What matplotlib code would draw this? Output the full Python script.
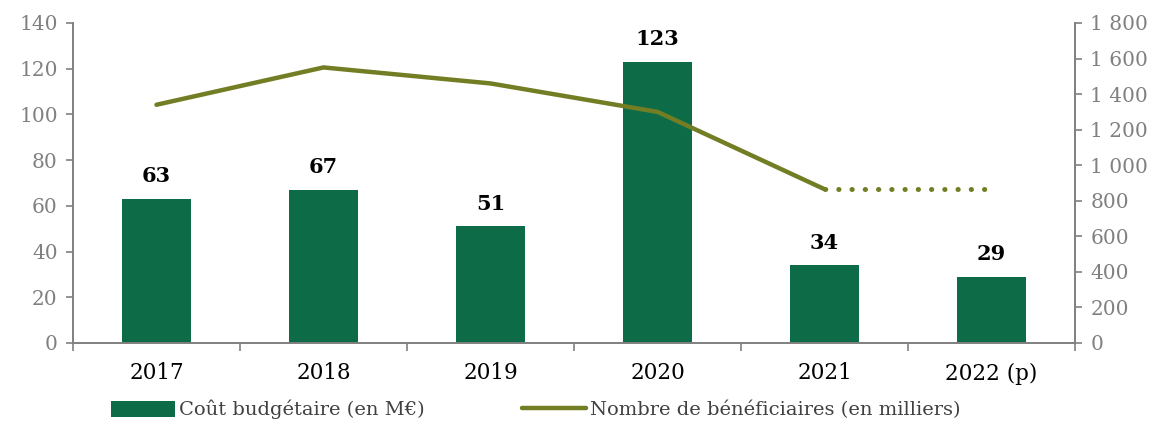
import numpy as np
import matplotlib.pyplot as plt
from matplotlib.ticker import FuncFormatter

years = ['2017', '2018', '2019', '2020', '2021', '2022 (p)']
cout = [63, 67, 51, 123, 34, 29]
benef = [1340, 1550, 1460, 1300, 865]
benef_prev = [865, 865]

bar_color = '#0d6b48'
line_color = '#737d24'
grey = '#808080'

plt.rcParams['font.family'] = ['DejaVu Serif']

fig = plt.figure(figsize=(11.56, 4.21), dpi=100)
ax = fig.add_axes([0.0631, 0.1853, 0.8669, 0.7601])
ax2 = ax.twinx()

x = np.arange(len(years))
bars = ax.bar(x, cout, width=0.41, color=bar_color, zorder=2,
              label='Coût budgétaire (en M€)')
for xi, v in zip(x, cout):
    ax.annotate(str(v), (xi, v), xytext=(0, 9), textcoords='offset points',
                ha='center', va='bottom', fontsize=15, fontweight='bold',
                color='black')

ax2.plot(x[:5], benef, color=line_color, lw=3.2, solid_capstyle='round',
         label='Nombre de bénéficiaires (en milliers)')
ax2.plot(x[4:], benef_prev, color=line_color, lw=3.6,
         linestyle=(0, (0.05, 2.6)), dash_capstyle='round')

ax.set_xlim(-0.5, 5.5)
ax.set_ylim(0, 140)
ax.set_yticks(range(0, 141, 20))
ax2.set_ylim(0, 1800)
ax2.set_yticks(range(0, 1801, 200))
ax2.yaxis.set_major_formatter(FuncFormatter(lambda v, p: '{:,}'.format(int(v)).replace(',', ' ')))

ax.set_xticks(x)
ax.set_xticklabels(years, fontsize=15.5)
ax.set_xticks(np.arange(-0.5, 6, 1), minor=True)
ax.tick_params(axis='x', which='major', length=0, pad=14)
ax.tick_params(axis='x', which='minor', length=6, color=grey, width=1.2)

ax.tick_params(axis='y', labelsize=14.5, labelcolor=grey, color=grey,
               length=5, width=1.2, pad=6)
ax2.tick_params(axis='y', labelsize=14.5, labelcolor=grey, color=grey,
                length=5, width=1.2, pad=6)

for a in (ax, ax2):
    a.spines['top'].set_visible(False)
    for s in ('left', 'right', 'bottom'):
        a.spines[s].set_color(grey)
        a.spines[s].set_linewidth(1.2)

h1, l1 = ax.get_legend_handles_labels()
h2, l2 = ax2.get_legend_handles_labels()
fig.legend(h1 + h2, l1 + l2, loc='lower left', bbox_to_anchor=(0.081, -0.038),
           ncol=2, frameon=False, fontsize=14, labelcolor='#404040',
           handlelength=3.3, handleheight=0.9, handletextpad=0.2,
           columnspacing=5.0)

fig.savefig('out.png', dpi=100)
